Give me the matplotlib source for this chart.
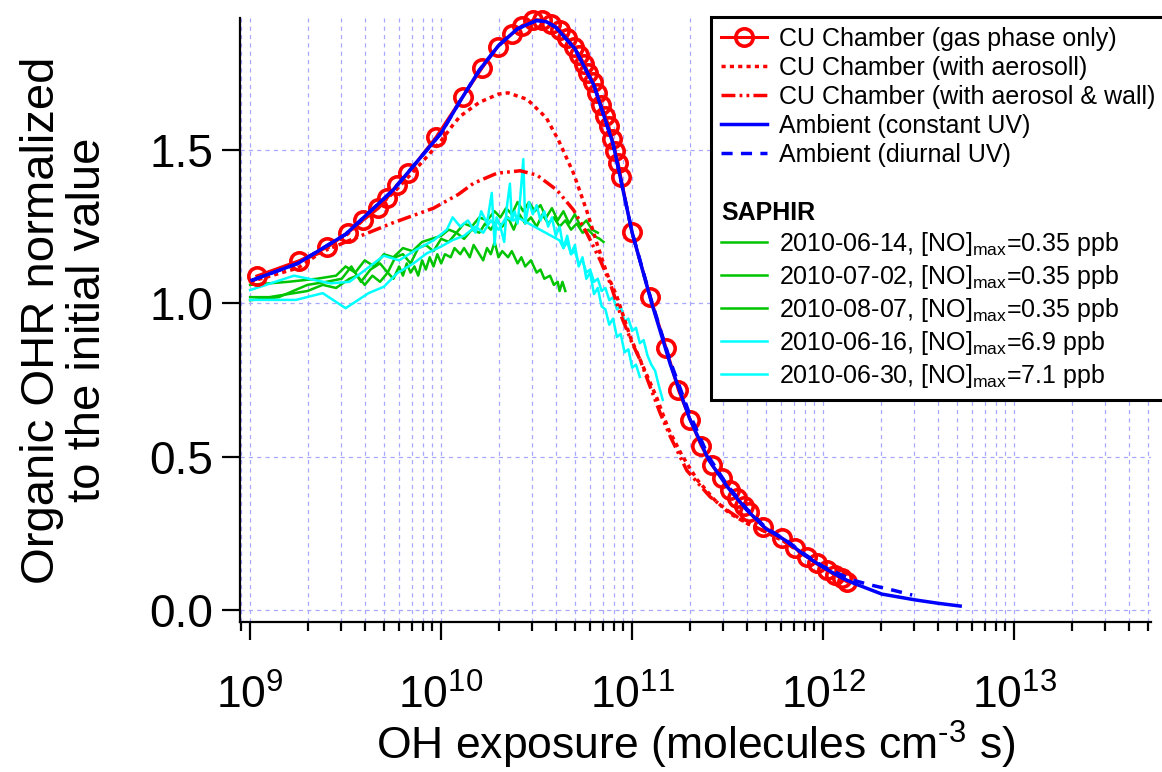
import numpy as np
import matplotlib
matplotlib.use("Agg")
import matplotlib.pyplot as plt
from matplotlib.lines import Line2D
from matplotlib.ticker import LogLocator, NullFormatter, FormatStrFormatter

plt.rcParams['font.family'] = ['Liberation Sans', 'DejaVu Sans']
plt.rcParams['mathtext.fontset'] = 'custom'
plt.rcParams['mathtext.rm'] = 'Liberation Sans'
plt.rcParams['mathtext.it'] = 'Liberation Sans:italic'
plt.rcParams['mathtext.bf'] = 'Liberation Sans:bold'
plt.rcParams['lines.scale_dashes'] = False

# --- data: log10(OH exposure) and normalized organic OHR ---
# CU chamber, gas phase only (circles)
gas_logx = [9.035, 9.258, 9.405, 9.512, 9.593, 9.672, 9.716, 9.768, 9.826, 9.974,
            10.112, 10.213, 10.297, 10.370, 10.423, 10.483, 10.527, 10.576, 10.623, 10.660,
            10.693, 10.723, 10.749, 10.770, 10.796, 10.814, 10.838, 10.859, 10.877, 10.895,
            10.911, 10.927, 10.940, 10.998, 11.094, 11.178, 11.242, 11.304, 11.361, 11.417,
            11.470, 11.513, 11.548, 11.583, 11.609, 11.687, 11.784, 11.853, 11.915, 11.967,
            12.019, 12.063, 12.098, 12.124]
gas_y = [1.089, 1.139, 1.183, 1.230, 1.272, 1.310, 1.342, 1.386, 1.424, 1.542,
         1.672, 1.766, 1.837, 1.878, 1.905, 1.924, 1.924, 1.911, 1.891, 1.864,
         1.837, 1.808, 1.780, 1.751, 1.720, 1.686, 1.647, 1.612, 1.578, 1.537,
         1.497, 1.456, 1.413, 1.233, 1.022, 0.853, 0.717, 0.620, 0.536, 0.473,
         0.429, 0.391, 0.364, 0.339, 0.321, 0.272, 0.234, 0.201, 0.174, 0.152,
         0.130, 0.114, 0.103, 0.092]

# CU chamber with aerosol
aer_logx = [9.0, 9.25, 9.5, 9.75, 9.9, 10.0, 10.06, 10.1, 10.2, 10.3, 10.35, 10.45, 10.55,
            10.614, 10.693, 10.763, 10.815, 10.867, 10.92, 10.99, 11.06, 11.13, 11.19,
            11.26, 11.34, 11.43, 11.51, 11.6, 11.7, 11.8, 11.9, 12.0, 12.1]
aer_y = [1.07, 1.115, 1.22, 1.36, 1.46, 1.53, 1.58, 1.61, 1.655, 1.682, 1.686, 1.665, 1.605,
         1.532, 1.424, 1.30, 1.196, 1.098, 1.022, 0.89, 0.79, 0.69, 0.59,
         0.505, 0.425, 0.36, 0.315, 0.283, 0.255, 0.222, 0.18, 0.137, 0.103]

# CU chamber with aerosol & wall
wall_logx = [9.0, 9.079, 9.297, 9.524, 9.742, 9.96, 10.09, 10.169, 10.292, 10.414, 10.501,
             10.606, 10.693, 10.763, 10.832, 10.885, 10.937, 11.0, 11.042, 11.094, 11.147,
             11.2, 11.286, 11.408, 11.496, 11.6, 11.7, 11.8, 11.9, 12.0, 12.1]
wall_y = [1.07, 1.092, 1.147, 1.206, 1.261, 1.31, 1.355, 1.391, 1.424, 1.432, 1.418,
          1.369, 1.304, 1.228, 1.141, 1.065, 0.967, 0.87, 0.815, 0.728, 0.641,
          0.565, 0.455, 0.369, 0.326, 0.283, 0.255, 0.222, 0.18, 0.137, 0.103]

# Ambient, constant UV
amb_logx = [9.01, 9.25, 9.5, 9.75, 10.0, 10.1, 10.2, 10.3, 10.4, 10.5, 10.55, 10.6, 10.7,
            10.8, 10.9, 11.0, 11.1, 11.2, 11.3, 11.4, 11.5, 11.6, 11.7, 11.8, 11.9, 12.0,
            12.1, 12.157, 12.307, 12.482, 12.602, 12.717]
amb_y = [1.075, 1.13, 1.225, 1.37, 1.555, 1.66, 1.76, 1.84, 1.895, 1.922, 1.918, 1.90, 1.83,
         1.71, 1.52, 1.23, 1.005, 0.80, 0.625, 0.49, 0.40, 0.326, 0.265, 0.228, 0.18, 0.139,
         0.104, 0.088, 0.052, 0.033, 0.022, 0.013]

# Ambient, diurnal UV
diu_logx = [9.01, 9.25, 9.5, 9.75, 10.0, 10.1, 10.2, 10.3, 10.4, 10.5, 10.55, 10.6, 10.7,
            10.8, 10.9, 11.0, 11.1, 11.2, 11.3, 11.4, 11.5, 11.6, 11.7, 11.8, 11.9, 12.0,
            12.157, 12.26, 12.37, 12.466]
diu_y = [1.075, 1.13, 1.225, 1.37, 1.555, 1.66, 1.76, 1.84, 1.895, 1.922, 1.918, 1.90, 1.83,
         1.71, 1.52, 1.23, 1.01, 0.81, 0.64, 0.50, 0.405, 0.33, 0.268, 0.23, 0.183, 0.142,
         0.097, 0.080, 0.064, 0.049]

# SAPHIR 2010-06-14
g1_logx = [9.00, 9.10, 9.20, 9.30, 9.38, 9.45, 9.52, 9.56, 9.60, 9.64, 9.68, 9.72, 9.75, 9.78,
           9.80, 9.82, 9.84, 9.86, 9.88, 9.90, 9.92, 9.94, 9.96, 9.98, 10.00, 10.02, 10.05,
           10.07, 10.10, 10.12, 10.15, 10.17, 10.19, 10.22, 10.24, 10.26, 10.28, 10.30, 10.32,
           10.35, 10.37, 10.40, 10.42, 10.44, 10.47, 10.50, 10.52, 10.54, 10.57, 10.59, 10.61,
           10.62, 10.635, 10.65]
g1_y = [1.02, 1.02, 1.03, 1.04, 1.06, 1.05, 1.08, 1.09, 1.06, 1.09, 1.07, 1.10, 1.08, 1.12,
        1.09, 1.13, 1.10, 1.12, 1.09, 1.14, 1.11, 1.15, 1.12, 1.16, 1.13, 1.16, 1.15,
        1.18, 1.16, 1.18, 1.15, 1.19, 1.17, 1.14, 1.18, 1.16, 1.20, 1.15, 1.17,
        1.15, 1.17, 1.13, 1.15, 1.12, 1.14, 1.10, 1.11, 1.08, 1.09, 1.06, 1.07,
        1.04, 1.07, 1.04]

# SAPHIR 2010-07-02
g2_logx = [9.00, 9.15, 9.30, 9.40, 9.48, 9.53, 9.58, 9.63, 9.68, 9.72, 9.76, 9.80, 9.84, 9.88,
           9.92, 9.96, 10.00, 10.04, 10.08, 10.12, 10.16, 10.20, 10.23, 10.26, 10.29, 10.32,
           10.35, 10.38, 10.41, 10.44, 10.47, 10.50, 10.53, 10.56, 10.59, 10.62, 10.65, 10.68,
           10.71, 10.74, 10.77, 10.80, 10.83, 10.85]
g2_y = [1.01, 1.02, 1.06, 1.07, 1.08, 1.12, 1.07, 1.11, 1.13, 1.10, 1.15, 1.16, 1.13, 1.18,
        1.19, 1.17, 1.21, 1.20, 1.23, 1.21, 1.24, 1.23, 1.26, 1.24, 1.27, 1.25,
        1.28, 1.24, 1.29, 1.26, 1.28, 1.25, 1.29, 1.26, 1.28, 1.25, 1.27, 1.24,
        1.26, 1.23, 1.24, 1.22, 1.21, 1.20]

# SAPHIR 2010-08-07
g3_logx = [9.00, 9.20, 9.35, 9.45, 9.50, 9.55, 9.60, 9.65, 9.70, 9.75, 9.80, 9.85, 9.90, 9.95,
           10.00, 10.04, 10.08, 10.12, 10.16, 10.20, 10.24, 10.28, 10.31, 10.34, 10.37, 10.40,
           10.43, 10.46, 10.49, 10.52, 10.55, 10.58, 10.61, 10.64, 10.67, 10.70, 10.73, 10.76,
           10.79, 10.82]
g3_y = [1.06, 1.07, 1.08, 1.09, 1.12, 1.10, 1.14, 1.12, 1.16, 1.15, 1.18, 1.17, 1.20, 1.21,
        1.22, 1.24, 1.23, 1.26, 1.25, 1.28, 1.27, 1.30, 1.28, 1.31, 1.29, 1.33,
        1.30, 1.33, 1.30, 1.32, 1.28, 1.31, 1.27, 1.30, 1.26, 1.29, 1.25, 1.27,
        1.24, 1.23]

# SAPHIR 2010-06-16
c1_logx = [9.00, 9.23, 9.42, 9.52, 9.70, 9.78, 9.87, 9.96, 10.03, 10.06, 10.10, 10.14, 10.18,
           10.21, 10.24, 10.265, 10.28, 10.29, 10.31, 10.33, 10.345, 10.36, 10.37, 10.385,
           10.40, 10.415, 10.43, 10.44, 10.46, 10.48, 10.50, 10.52, 10.54, 10.56, 10.58, 10.60,
           10.62, 10.64, 10.66, 10.68, 10.70, 10.72, 10.74, 10.76, 10.78, 10.80, 10.82, 10.84,
           10.86, 10.88, 10.90, 10.92, 10.94, 10.96, 10.98, 11.00, 11.02, 11.04]
c1_y = [1.043, 1.09, 1.065, 1.07, 1.155, 1.14, 1.175, 1.205, 1.24, 1.28, 1.25, 1.27, 1.23,
        1.30, 1.26, 1.36, 1.19, 1.28, 1.25, 1.20, 1.32, 1.39, 1.27, 1.30,
        1.26, 1.35, 1.47, 1.26, 1.33, 1.29, 1.32, 1.27, 1.30, 1.25, 1.28, 1.22,
        1.25, 1.18, 1.22, 1.16, 1.19, 1.12, 1.15, 1.08, 1.10, 1.03, 1.05, 0.99,
        0.98, 0.93, 0.95, 0.89, 0.90, 0.84, 0.85, 0.79, 0.80, 0.76]

# SAPHIR 2010-06-30
c2_logx = [9.00, 9.24, 9.38, 9.50, 9.62, 9.70, 9.77, 9.855, 9.925, 10.00, 10.06, 10.12, 10.18,
           10.22, 10.26, 10.30, 10.34, 10.38, 10.40, 10.62, 10.64, 10.66, 10.68, 10.70, 10.72,
           10.74, 10.76, 10.78, 10.80, 10.82, 10.84, 10.86, 10.88, 10.90, 10.92, 10.94, 10.96,
           10.98, 11.00, 11.02, 11.04, 11.06, 11.08, 11.10, 11.12, 11.14, 11.16]
c2_y = [1.011, 1.011, 1.033, 0.984, 1.033, 1.054, 1.098, 1.13, 1.163, 1.185, 1.206, 1.22, 1.25,
        1.23, 1.27, 1.24, 1.28, 1.27, 1.28, 1.205, 1.18, 1.20, 1.16, 1.17, 1.13,
        1.14, 1.10, 1.11, 1.07, 1.08, 1.04, 1.05, 1.01, 1.02, 0.98, 0.99, 0.94,
        0.95, 0.91, 0.92, 0.87, 0.88, 0.83, 0.80, 0.78, 0.73, 0.685]

saphir_labels = ['2010-06-14, [NO]$_{\\mathregular{max}}$=0.35 ppb',
                 '2010-07-02, [NO]$_{\\mathregular{max}}$=0.35 ppb',
                 '2010-08-07, [NO]$_{\\mathregular{max}}$=0.35 ppb',
                 '2010-06-16, [NO]$_{\\mathregular{max}}$=6.9 ppb',
                 '2010-06-30, [NO]$_{\\mathregular{max}}$=7.1 ppb']

RED = '#ff0000'
BLUE = '#0000ff'
GREEN = '#00c400'
CYAN = '#00ffff'


def ex(logs):
    return 10.0 ** np.asarray(logs)


fig = plt.figure(figsize=(11.62, 7.72), dpi=100)
ax = fig.add_axes([240 / 1162, 1 - 622 / 772, 911 / 1162, 604 / 772])

saphir = [(g1_logx, g1_y, GREEN), (g2_logx, g2_y, GREEN), (g3_logx, g3_y, GREEN),
          (c1_logx, c1_y, CYAN), (c2_logx, c2_y, CYAN)]
saphir_handles = []
for (lx, yy, col), lab in zip(saphir, saphir_labels):
    h, = ax.plot(ex(lx), yy, color=col, lw=1.8)
    saphir_handles.append(h)

h_aer, = ax.plot(ex(aer_logx), aer_y, color=RED, lw=2.5, dashes=(3, 3))
h_wall, = ax.plot(ex(wall_logx), wall_y, color=RED, lw=2.5, dashes=(10, 3, 2, 3, 2, 3))
h_gas, = ax.plot(ex(gas_logx), gas_y, color=RED, lw=2.2, marker='o', ms=12.5,
                 mfc='none', mec=RED, mew=2.6, clip_on=False)
h_diu, = ax.plot(ex(diu_logx), diu_y, color=BLUE, lw=2.5, dashes=(8, 6))
h_amb, = ax.plot(ex(amb_logx), amb_y, color=BLUE, lw=2.5)

ax.set_xscale('log')
ax.set_xlim(10 ** 8.947, 10 ** 13.716)
ax.set_ylim(-0.039, 1.930)

ax.xaxis.set_major_locator(LogLocator(base=10, numticks=20))
ax.xaxis.set_minor_locator(LogLocator(base=10, subs=np.arange(2, 10), numticks=100))
ax.xaxis.set_minor_formatter(NullFormatter())
ax.set_yticks([0.0, 0.5, 1.0, 1.5])
ax.yaxis.set_major_formatter(FormatStrFormatter('%.1f'))

grid_kw = dict(color='#a8a8ff', lw=0.9, dashes=(3, 3))
ax.grid(True, which='both', axis='x', **grid_kw)
ax.grid(True, which='major', axis='y', **grid_kw)
ax.set_axisbelow(True)

for s in ['top', 'right']:
    ax.spines[s].set_visible(False)
for s in ['left', 'bottom']:
    ax.spines[s].set_linewidth(1.6)

ax.tick_params(which='major', direction='out', length=13, width=1.6, labelsize=33, pad=6)
ax.tick_params(which='minor', direction='out', length=6.5, width=1.6)
ax.tick_params(axis='x', which='major', pad=25, labelsize=32)

ax.set_xlabel('OH exposure (molecules cm$^{\\text{-3}}$ s)', fontsize=32)
ax.xaxis.set_label_coords(0.5, -0.16)
ax.set_ylabel('Organic OHR normalized\nto the initial value', fontsize=34, linespacing=1.05)
ax.yaxis.set_label_coords(-0.143, 0.5)

blank = Line2D([], [], linestyle='none')
handles = [h_gas, h_aer, h_wall, h_amb, h_diu, blank, blank] + saphir_handles
labels = ['CU Chamber (gas phase only)', 'CU Chamber (with aerosoll)',
          'CU Chamber (with aerosol & wall)', 'Ambient (constant UV)',
          'Ambient (diurnal UV)', '', 'SAPHIR'] + saphir_labels
leg = fig.legend(handles, labels, loc='upper left',
                 bbox_to_anchor=(711 / 1162, 1 - 17 / 772), bbox_transform=fig.transFigure,
                 fontsize=18, numpoints=1, handlelength=1.84, handletextpad=0.48,
                 labelspacing=0.2, borderpad=0.4, borderaxespad=0, fancybox=False,
                 framealpha=1, edgecolor='black')
leg.get_frame().set_linewidth(2.2)
sap = leg.get_texts()[6]
sap.set_fontweight('bold')
sap.set_x(-58)

fig.savefig('out.png', dpi=100)
